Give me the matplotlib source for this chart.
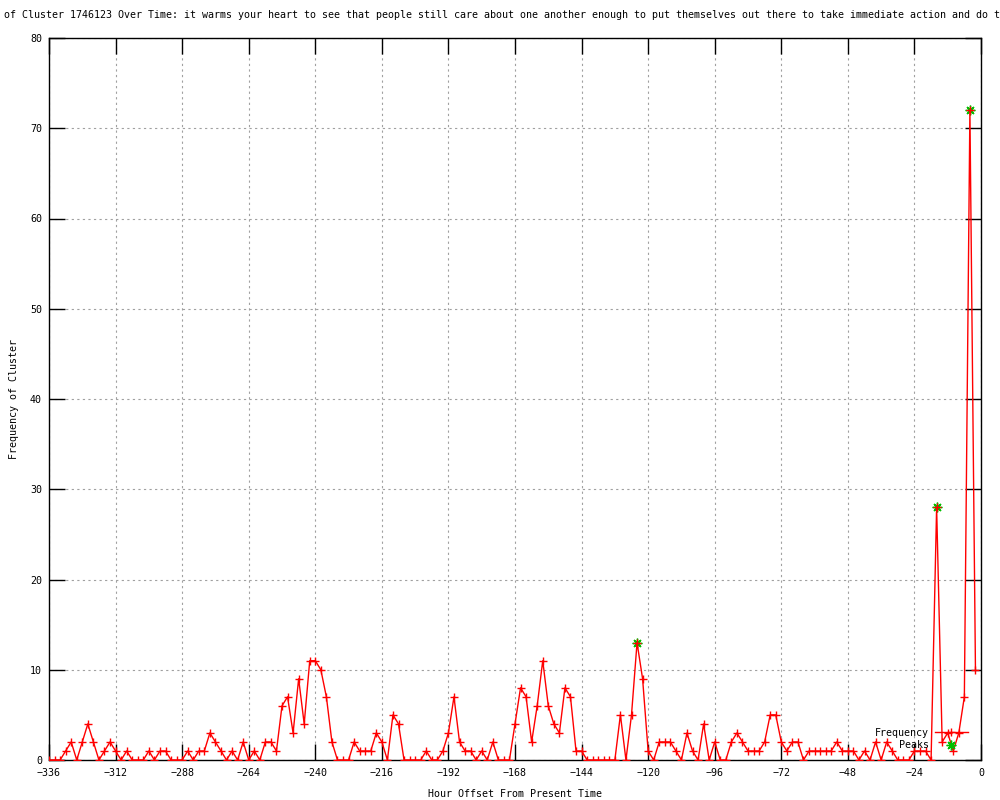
import matplotlib
matplotlib.use("Agg")
import matplotlib.pyplot as plt

# hour offsets, one sample every 2 hours
hours = list(range(-336, 0, 2))
freq = [0, 0, 0, 1, 2, 0, 2, 4, 2, 0,
        1, 2, 1, 0, 1, 0, 0, 0, 1, 0,
        1, 1, 0, 0, 0, 1, 0, 1, 1, 3,
        2, 1, 0, 1, 0, 2, 0, 1, 0, 2,
        2, 1, 6, 7, 3, 9, 4, 11, 11, 10,
        7, 2, 0, 0, 0, 2, 1, 1, 1, 3,
        2, 0, 5, 4, 0, 0, 0, 0, 1, 0,
        0, 1, 3, 7, 2, 1, 1, 0, 1, 0,
        2, 0, 0, 0, 4, 8, 7, 2, 6, 11,
        6, 4, 3, 8, 7, 1, 1, 0, 0, 0,
        0, 0, 0, 5, 0, 5, 13, 9, 1, 0,
        2, 2, 2, 1, 0, 3, 1, 0, 4, 0,
        2, 0, 0, 2, 3, 2, 1, 1, 1, 2,
        5, 5, 2, 1, 2, 2, 0, 1, 1, 1,
        1, 1, 2, 1, 1, 1, 0, 1, 0, 2,
        0, 2, 1, 0, 0, 0, 1, 1, 1, 0,
        28, 2, 3, 1, 3, 7, 72, 10]
peak_hours = [-124, -16, -4]
peak_vals = [13, 28, 72]

xticks = list(range(-336, 1, 24))
yticks = list(range(0, 81, 10))

title = ("of Cluster 1746123 Over Time: it warms your heart to see that people still care "
         "about one another enough to put themselves out there to take immediate action and do t")

font = "DejaVu Sans Mono"
fs = 7.2

fig = plt.figure(figsize=(10, 8), dpi=100)
ax = fig.add_axes([0.049, 0.05, 0.932, 0.9025])

ax.plot(hours, freq, color="red", lw=1, marker="+", ms=6, mew=1,
        label="Frequency", zorder=3)
ax.plot(peak_hours, peak_vals, ls="none", color="#00c000", marker=(8, 2, 0),
        ms=7, mew=1, label="Peaks", zorder=2)

ax.set_xlim(-336, 0)
ax.set_ylim(0, 80)
ax.set_xticks(xticks)
ax.set_yticks(yticks)
ax.tick_params(direction="in", length=11.5, width=1, top=True, right=True,
               labelsize=fs)
ax.tick_params(axis="x", pad=6)
ax.tick_params(axis="y", pad=5)
for lab in ax.get_xticklabels() + ax.get_yticklabels():
    lab.set_fontfamily(font)
ax.grid(True, color="#a0a0a0", lw=0.8, ls=(0, (2, 3)))
for s in ax.spines.values():
    s.set_linewidth(1)

ax.set_xlabel("Hour Offset From Present Time", fontsize=fs, family=font, labelpad=7.5)
ax.set_ylabel("Frequency of Cluster", fontsize=fs, family=font, labelpad=8)

fig.text(0.004, 0.981, title, fontsize=fs, family=font, ha="left", va="center")

leg = ax.legend(loc="lower right", bbox_to_anchor=(0.99, 0.008), frameon=False,
                markerfirst=False, handlelength=3.3, labelspacing=0.25,
                borderaxespad=0, handletextpad=0.6, prop={"family": font, "size": fs})

fig.savefig("out.png", dpi=100, facecolor="white")
